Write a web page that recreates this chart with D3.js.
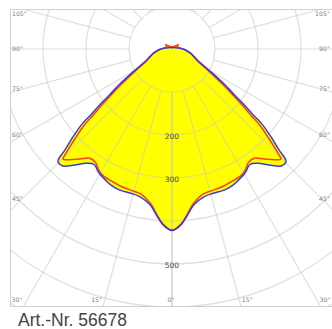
<!DOCTYPE html>
<html><head><meta charset="utf-8">
<script src="https://cdn.jsdelivr.net/npm/d3@7"></script>
<style>body{margin:0;background:#fff}svg{display:block}</style>
</head><body>
<svg id="c" width="332" height="329"></svg>
<script>
// Data: luminous intensity (cd/klm) vs angle from nadir (deg), one half (symmetric)
const anglesC0 = [0,3,5,8,12,16,20,24,28,31,34,37,40,43,45,45.7,46.7,48.4,50.3,50.9,52.3,53.8,56.1,59.6,66.5,77,88.6,98,110,130,150,180];
const valuesC0 = [422,409,391,366,352,349,350,347,340,333,324,333,352,372,374,370,342,308,269,244,212,179,146,105,64,45,28,16,9,5,3.5,3];
const anglesC90 = [0,3,5,8,12,16,20,24,28,31,34,37,40,43,44.7,45.5,47.2,49.1,49.8,51.2,52.8,55,58.5,65.5,76,88,100,115,124,135,155,180];
const valuesC90 = [421,407,389,362,345,342,341,338,336,330,318,318,334,352,360,345,308,269,244,212,179,146,105,64,45,28,17,13,18,9,6,5];
const ringValues = [100,200,300,400,500,600,700,800];
const ringLabels = [200,300,500];
const spokeAngles = [0,15,30,45,60,75,90,105,120,135,150,165,180];
const sideLabelAngles = [105,90,75,60,45];
const bottomLabelAngles = [30,15];
const caption = "Art.-Nr. 56678";

const W=332,H=329, cx=172, cy=49;
const frame={x0:10,y0:9,x1:332,y1:306};
const svg=d3.select("#c");
const r=d3.scaleLinear().domain([0,100]).range([0,43]);

svg.append("defs").append("clipPath").attr("id","fr").append("rect")
  .attr("x",frame.x0).attr("y",frame.y0).attr("width",frame.x1-frame.x0).attr("height",frame.y1-frame.y0);

const g=svg.append("g");
const rad=d=>d*Math.PI/180;

function loop(angles, values){
  const pts=[];
  for(let i=angles.length-1;i>=1;i--) pts.push({a:Math.PI-rad(angles[i]), v:values[i]});
  pts.push({a:Math.PI, v:values[0]});
  for(let i=1;i<angles.length-1;i++) pts.push({a:Math.PI+rad(angles[i]), v:values[i]});
  return pts;
}
const line=d3.lineRadial().angle(d=>d.a).radius(d=>r(d.v)).curve(d3.curveCatmullRomClosed.alpha(0.5));
const c0=loop(anglesC0,valuesC0), c90=loop(anglesC90,valuesC90);

const clipG=g.append("g").attr("clip-path","url(#fr)")
  .append("g").attr("transform",`translate(${cx},${cy})`);

clipG.append("path").attr("d",line(c0)).attr("fill","#ffff00");
clipG.append("path").attr("d",line(c90)).attr("fill","#ffff00");

const grid=clipG.append("g").attr("stroke","#c4c4c4").attr("stroke-opacity",0.55).attr("stroke-width",1.2).attr("fill","none");
ringValues.forEach(v=>grid.append("circle").attr("r",r(v)));
spokeAngles.forEach(t=>{
  [1,-1].forEach(s=>{
    const a=rad(t);
    const x=-s*Math.sin(a), y=Math.cos(a);
    grid.append("line").attr("x1",x*r(100)).attr("y1",y*r(100)).attr("x2",x*r(1200)).attr("y2",y*r(1200));
  });
});

clipG.append("path").attr("d",line(c90)).attr("fill","none").attr("stroke","#f5401c").attr("stroke-width",1.5);
clipG.append("path").attr("d",line(c0)).attr("fill","none").attr("stroke","#3a3ae0").attr("stroke-width",1.5);

// frame
const fr=svg.append("g").attr("stroke","#cfcfcf").attr("stroke-width",1);
fr.append("line").attr("x1",frame.x0+0.5).attr("y1",frame.y0+0.5).attr("x2",W).attr("y2",frame.y0+0.5);
fr.append("line").attr("x1",frame.x0+0.5).attr("y1",frame.y0+0.5).attr("x2",frame.x0+0.5).attr("y2",frame.y1+0.5);
fr.append("line").attr("x1",frame.x0+0.5).attr("y1",frame.y1+0.5).attr("x2",W).attr("y2",frame.y1+0.5);

// ring labels
ringLabels.forEach(v=>{
  svg.append("text").attr("x",cx).attr("y",cy+r(v)+2).attr("text-anchor","middle").attr("dominant-baseline","middle")
    .attr("font-family","DejaVu Sans, sans-serif").attr("font-size",7.5).attr("fill","#444").text(v);
});

// angle labels
const lab=svg.append("g").attr("font-family","DejaVu Sans, sans-serif").attr("font-size",6.2).attr("fill","#808080");
sideLabelAngles.forEach(t=>{
  const a=rad(t), tt=(cx-22)/Math.sin(a);
  const y=Math.max(14, cy+tt*Math.cos(a));
  lab.append("text").attr("x",12).attr("y",y).attr("dominant-baseline","middle").text(t+"°");
  lab.append("text").attr("x",330).attr("y",y).attr("text-anchor","end").attr("dominant-baseline","middle").text(t+"°");
});
bottomLabelAngles.forEach(t=>{
  const a=rad(t), tt=(300-cy)/Math.cos(a), dx=tt*Math.sin(a)*1.12;
  lab.append("text").attr("x",Math.max(17,cx-dx)).attr("y",300).attr("text-anchor","middle").attr("dominant-baseline","middle").text(t+"°");
  lab.append("text").attr("x",Math.min(325,cx+dx)).attr("y",300).attr("text-anchor","middle").attr("dominant-baseline","middle").text(t+"°");
});
lab.append("text").attr("x",cx-1).attr("y",300).attr("text-anchor","middle").attr("dominant-baseline","middle").text("0°");

svg.append("text").attr("x",18).attr("y",326).attr("font-family","Liberation Sans, Arial, sans-serif")
  .attr("font-size",17.5).attr("fill","#444").text(caption);
</script>
</body></html>
